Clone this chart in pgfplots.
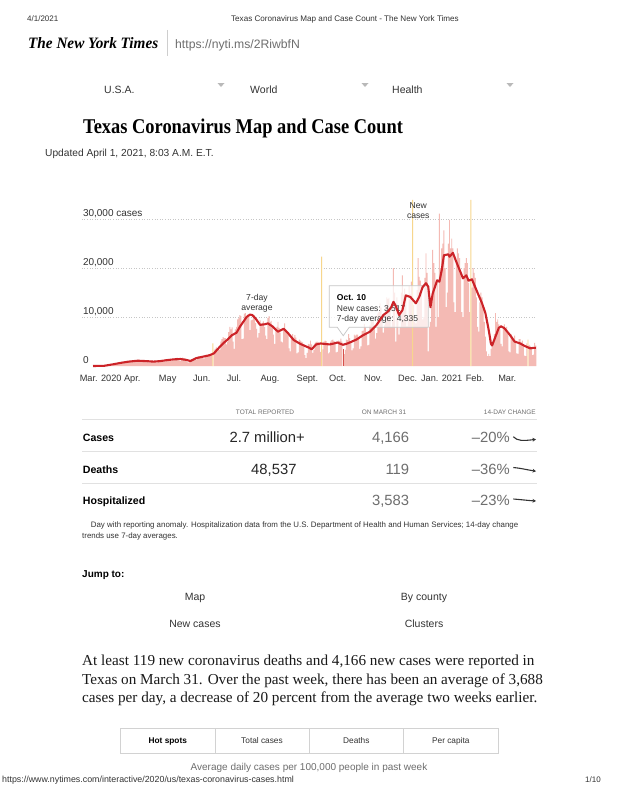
\documentclass[border=0pt]{standalone}
\usepackage{fontspec}
\setmainfont{Liberation Sans}
\newfontfamily\serifface{Liberation Serif}
\usepackage{graphicx}
\usepackage{pgfplots}
\pgfplotsset{compat=1.18}
\usetikzlibrary{arrows.meta}

\definecolor{ink}{RGB}{51,51,51}
\definecolor{soft}{RGB}{110,110,110}
\definecolor{rule}{RGB}{225,225,225}
\definecolor{barpink}{RGB}{244,186,180}
\definecolor{avgred}{RGB}{204,35,40}
\definecolor{anomaly}{RGB}{247,214,140}
\definecolor{picked}{RGB}{214,80,75}
\newcommand\fs[1]{\fontsize{#1}{#1}\selectfont}

\begin{document}
\begin{tikzpicture}[x=1pt,y=1pt]
\fill[white] (0,0) rectangle (618,-800);
\path[use as bounding box] (0,0) rectangle (618,-800);

% browser header
\node[anchor=base west,inner sep=0,text=ink,font=\fs{8}] at (27,-21.9) {4/1/2021};
\node[anchor=base,inner sep=0,text=ink,font=\fs{8.1}] at (345,-21.9) {Texas Coronavirus Map and Case Count - The New York Times};
\node[anchor=west,inner sep=0] at (28,-42.7) {\resizebox{130pt}{11pt}{\serifface\bfseries\itshape The New York Times}};
\draw[rule!80!gray,line width=0.8pt] (167,-30) -- (167,-56);
\node[anchor=base west,inner sep=0,text=soft,font=\fs{12.2}] at (175,-48.3) {https://nyti.ms/2RiwbfN};

% navigation
\node[anchor=base west,inner sep=0,text=ink,font=\fs{10.5}] at (104,-93.8) {U.S.A.};
\node[anchor=base west,inner sep=0,text=ink,font=\fs{10.5}] at (250,-93.8) {World};
\node[anchor=base west,inner sep=0,text=ink,font=\fs{10.5}] at (392,-93.8) {Health};
\foreach \t in {221,365,510} {\fill[gray!55] (\t-3.5,-83) -- (\t+3.5,-83) -- (\t,-87) -- cycle;}

% headline
\node[anchor=base west,inner sep=0] at (83,-133.5) {\scalebox{0.877}[1]{\serifface\bfseries\fs{21}Texas Coronavirus Map and Case Count}};
\node[anchor=base west,inner sep=0,text=ink,font=\fs{10.2}] at (45,-156.7) {Updated April 1, 2021, 8:03 A.M. E.T.};

% chart
\begin{axis}[
  at={(81.8pt,-366pt)}, anchor=south west,
  scale only axis, width=454.6pt, height=166.1pt,
  xmin=-10, xmax=395.5, ymin=0, ymax=33900,
  clip=false,
  scaled y ticks=false,
  axis line style={draw=none},
  major tick length=0pt,
  xtick={6.8,35,66.6,97,125.8,157.9,191.2,218.2,250,280.7,311,340.7,369.5},
  xticklabels={Mar. 2020,Apr.,May,Jun.,Jul.,Aug.,Sept.,Oct.,Nov.,Dec.,Jan. 2021,Feb.,Mar.},
  xticklabel style={anchor=base,inner sep=0pt,yshift=-15.5pt,font=\fs{9.2},text=ink},
  ytick={10000,20000,30000},
  yticklabels={{10,000},{20,000},{30,000 cases}},
  extra y ticks={0}, extra y tick labels={0},
  extra y tick style={grid=none},
  yticklabel style={anchor=base west,inner sep=0pt,xshift=1pt,yshift=2.5pt,font=\fs{10},text=ink},
  ymajorgrids,
  grid style={dash pattern=on 1pt off 1.6pt,color=gray!45,line width=0.6pt},
]
% daily new cases
\addplot[ybar,bar width=0.85,bar shift=0pt,fill=barpink,draw=none] coordinates {
(0,0)(1,0)(2,0)(3,0)(4,2)(5,0)(6,3)
(7,1)(8,3)(9,5)(10,10)(11,15)(12,25)(13,20)
(14,20)(15,40)(16,60)(17,90)(18,150)(19,200)(20,250)
(21,300)(22,350)(23,400)(24,500)(25,650)(26,700)(27,600)
(28,700)(29,650)(30,800)(31,900)(32,1000)(33,1100)(34,900)
(35,850)(36,900)(37,1100)(38,1200)(39,1100)(40,1250)(41,1000)
(42,800)(43,850)(44,1100)(45,1050)(46,1200)(47,1100)(48,900)
(49,700)(50,750)(51,950)(52,1000)(53,1050)(54,1000)(55,800)
(56,800)(57,700)(58,1100)(59,1200)(60,1100)(61,1250)(62,1000)
(63,900)(64,850)(65,1300)(66,1400)(67,1200)(68,1350)(69,1100)
(70,1000)(71,1100)(72,1500)(73,1600)(74,1450)(75,1700)(76,1200)
(77,1100)(78,1000)(79,1600)(80,1700)(81,1500)(82,1600)(83,1300)
(84,800)(85,700)(86,1200)(87,1300)(88,1400)(89,1300)(90,1200)
(91,1400)(92,1200)(93,1800)(94,2000)(95,1900)(96,1900)(97,1700)
(98,1600)(99,1500)(100,2200)(101,2300)(102,2100)(103,2400)(104,2000)
(105,2000)(106,2300)(108,3200)(109,3500)(110,3800)(111,3100)
(112,3500)(113,3300)(114,5000)(115,5500)(116,5900)(117,5700)(118,5700)
(119,4400)(120,5000)(121,6900)(122,8000)(123,7500)(124,7900)(125,5000)
(126,3500)(127,7500)(128,8000)(129,9500)(130,9800)(131,10400)(132,10200)
(133,5500)(134,5600)(135,10700)(136,10800)(137,10200)(138,10500)(139,10300)
(140,7300)(141,9300)(142,9400)(143,10500)(144,10400)(145,8800)(146,7600)
(147,5800)(148,6700)(149,9300)(150,8600)(151,8800)(152,9100)(153,8000)
(154,6200)(155,5500)(156,9800)(157,10200)(158,9000)(159,9200)(160,8000)
(161,6400)(162,4500)(163,7500)(164,8000)(165,9000)(166,7800)(167,6800)
(168,5000)(169,4800)(170,7600)(171,8700)(172,7400)(173,7000)(174,6900)
(175,3600)(176,3000)(177,6000)(178,6500)(179,5800)(180,6300)(181,5800)
(182,2600)(183,2800)(184,5400)(185,5200)(186,5000)(187,4800)(188,4300)
(189,2200)(190,1600)(191,2700)(192,4500)(193,4400)(194,5200)(195,4400)
(196,2700)(197,3300)(198,4700)(199,4900)(200,5000)(201,4800)(202,4300)
(203,2900)(205,3400)(206,5000)(207,5200)(208,5100)(209,4700)
(210,2600)(211,2800)(212,5000)(213,5300)(214,5400)(215,5100)(216,4600)
(217,2800)(218,2900)(219,5200)(220,5100)(221,5600)(222,5000)
(224,2400)(225,3300)(226,5400)(227,5300)(228,6500)(229,5700)(230,5000)
(231,3200)(232,3600)(233,6400)(234,6200)(235,6400)(236,6400)(237,5500)
(238,3500)(239,4000)(240,7100)(241,7200)(242,8600)(243,7900)(244,6400)
(245,4200)(246,4300)(247,8300)(248,9600)(249,9000)(250,9400)(251,7900)
(252,5600)(253,6700)(254,10700)(255,11000)(256,12800)(257,11900)(258,10000)
(259,6800)(260,8300)(261,12000)(262,14000)(263,13700)(264,13900)(265,11600)
(266,8000)(267,9300)(268,20000)(269,15000)(270,5000)(271,14000)(272,9500)
(273,6400)(274,8000)(275,15000)(276,18500)(277,14600)(278,15800)(279,14600)
(280,8100)(281,9700)(282,16300)(283,14600)(284,17200)(286,12400)
(287,9000)(288,8700)(289,15500)(290,22000)(291,18200)(292,17400)(293,16500)
(294,9500)(295,10000)(296,18000)(297,23000)(298,19000)(299,3000)(300,8000)
(301,9000)(302,12000)(303,23700)(304,21000)(305,19000)(306,8000)(307,17000)
(308,10000)(309,31100)(310,20000)(311,24000)(312,25000)(313,27700)(314,20000)
(315,12000)(316,15000)(317,25000)(318,29800)(319,24000)(320,26000)(321,24000)
(322,13000)(323,11000)(324,21000)(325,24000)(326,23000)(327,22000)(328,19000)
(329,11000)(330,10000)(331,20000)(332,21000)(333,22000)(334,21000)(335,17000)
(336,11000)(338,16000)(339,20000)(340,19000)(341,18000)(342,14000)
(343,8000)(344,7000)(345,13000)(346,15000)(347,14000)(348,12000)(349,9000)
(350,6000)(351,3000)(352,2000)(353,2500)(354,2000)(355,3500)(356,4500)
(357,5000)(358,6500)(359,10800)(360,9000)(361,9500)(362,8500)(363,7500)
(364,4500)(365,4000)(366,8000)(367,8500)(368,7500)(369,8000)(370,6500)
(371,3000)(372,2800)(373,6500)(374,6000)(375,5500)(376,6200)(377,4800)
(378,2600)(379,2500)(380,5500)(381,5500)(382,4800)(383,5200)(384,4300)
(385,2100)(386,2000)(387,4600)(389,4300)(390,4100)(391,3500)
(392,2200)(393,2300)(394,4700)(395,4166)
};
% days with reporting anomaly
\addplot[ybar,bar width=0.85,bar shift=0pt,fill=anomaly,draw=none] coordinates {
(107,4600)(204,22300)(285,33900)(337,33900)(388,5400)
};
% selected day
\addplot[ybar,bar width=0.85,bar shift=0pt,fill=picked,draw=none] coordinates {(223,3517)};

% tooltip
\filldraw[fill=white,fill opacity=0.72,draw=gray!45,line width=0.7pt]
  (210.8,16390) -- (299.1,16390) -- (299.1,7900) -- (228.5,7900) -- (223.2,6180)
  -- (217.9,7900) -- (210.8,7900) -- cycle;
\node[anchor=base west,inner sep=0,text=black,font=\bfseries\fs{8.5}] at (217.4,13388) {Oct. 10};
\node[anchor=base west,inner sep=0,text=ink,font=\fs{8.5}] at (217.4,11143) {New cases: 3,517};
\node[anchor=base west,inner sep=0,text=ink,font=\fs{8.5}] at (217.4,9102) {7-day average: 4,335};

% 7-day average
\addplot[draw=avgred,line width=2.1pt,line join=round,mark=none] coordinates {
(0,0)(10,40)(18,350)(25,650)(32,900)(40,1080)(47,1000)(54,900)(60,1000)
(66,1200)(72,1350)(78,1430)(83,1250)(87,1020)(92,1600)(98,1900)(104,2200)
(108,2600)(111,3400)(116,4600)(120,5400)(124,6300)(128,6800)(131,8000)
(134,9000)(137,10000)(140,10500)(142,10400)(145,9700)(149,8400)(153,8500)
(156,8700)(160,8100)(165,7000)(170,7600)(174,6700)(179,5300)(185,4500)
(189,4100)(193,3700)(195,3400)(199,4400)(203,4600)(207,4500)(211,4400)
(215,4600)(218,4800)(221,4500)(223,4335)(227,4600)(231,5000)(235,5400)
(241,6300)(247,7000)(253,8400)(259,10400)(263,11100)(266,12000)(268,13100)
(270,12300)(273,10400)(276,11400)(279,14400)(283,14100)(288,12800)
(291,14100)(294,16100)(297,16900)(299,16200)(301,12000)(303,14800)
(307,17500)(309,17200)(311,19500)(313,22600)(317,22800)(318,22300)
(321,23100)(324,21300)(327,19600)(330,17900)(333,18500)(335,17400)
(338,17700)(342,15500)(347,12800)(350,10800)(353,7300)(355,4500)
(356,4200)(359,6000)(362,7800)(364,8100)(367,7700)(372,6300)(376,5000)
(381,4600)(385,4100)(390,3600)(393,3700)(395,3690)
};
\end{axis}

% chart annotations
\node[align=center,inner sep=0,text=ink,font=\fontsize{8.6}{9.6}\selectfont] at (257,-303) {7-day\\average};
\node[align=center,inner sep=0,text=ink,font=\fontsize{8.6}{9.6}\selectfont] at (418.3,-210.7) {New\\cases};

% summary table
\node[anchor=base,inner sep=0,text=soft,font=\fs{6.5}] at (265,-414.3) {TOTAL REPORTED};
\node[anchor=base,inner sep=0,text=soft,font=\fs{6.5}] at (384,-414.3) {ON MARCH 31};
\node[anchor=base east,inner sep=0,text=soft,font=\fs{6.5}] at (536,-414.3) {14-DAY CHANGE};
\foreach \r in {419.3,451.7,483.3} {\draw[rule,line width=0.8pt] (82,-\r) -- (537,-\r);}

\node[anchor=base west,inner sep=0,text=black,font=\bfseries\fs{10.6}] at (82.7,-441.5) {Cases};
\node[anchor=base west,inner sep=0,text=black,font=\bfseries\fs{10.6}] at (82.7,-473.8) {Deaths};
\node[anchor=base west,inner sep=0,text=black,font=\bfseries\fs{10.6}] at (82.7,-504.8) {Hospitalized};

\node[anchor=base east,inner sep=0,text=black!85,font=\fs{14.8}] at (305,-442.5) {2.7 million+};
\node[anchor=base east,inner sep=0,text=black!85,font=\fs{14.8}] at (296.7,-474.8) {48,537};
\node[anchor=base east,inner sep=0,text=soft,font=\fs{14.8}] at (409.3,-442.5) {4,166};
\node[anchor=base east,inner sep=0,text=soft,font=\fs{14.8}] at (409.3,-474.8) {119};
\node[anchor=base east,inner sep=0,text=soft,font=\fs{14.8}] at (409.3,-505.8) {3,583};
\node[anchor=base east,inner sep=0,text=soft,font=\fs{14.8}] at (510,-442.5) {–20\%};
\node[anchor=base east,inner sep=0,text=soft,font=\fs{14.8}] at (510,-474.8) {–36\%};
\node[anchor=base east,inner sep=0,text=soft,font=\fs{14.8}] at (510,-505.8) {–23\%};
\draw[ink,line width=1.1pt,-{Stealth[length=3.5pt,width=3.8pt]}] (513.3,-436.7) .. controls (517,-441) and (523,-441) .. (536,-439.3);
\draw[ink,line width=1.1pt,-{Stealth[length=3.5pt,width=3.8pt]}] (513.3,-467.5) .. controls (520,-468) and (528,-470) .. (536,-471.2);
\draw[ink,line width=1.1pt,-{Stealth[length=3.5pt,width=3.8pt]}] (513.3,-499) .. controls (520,-499.5) and (528,-500.5) .. (536,-501);

\node[anchor=base west,inner sep=0,text=ink,font=\fs{7.9}] at (90.7,-527) {Day with reporting anomaly. Hospitalization data from the U.S. Department of Health and Human Services; 14-day change};
\node[anchor=base west,inner sep=0,text=ink,font=\fs{7.9}] at (82,-538) {trends use 7-day averages.};

% jump links
\node[anchor=base west,inner sep=0,text=black,font=\bfseries\fs{10}] at (82,-577.6) {Jump to:};
\node[anchor=base,inner sep=0,text=ink,font=\fs{10.5}] at (195,-600.4) {Map};
\node[anchor=base,inner sep=0,text=ink,font=\fs{10.5}] at (424,-600.4) {By county};
\node[anchor=base,inner sep=0,text=ink,font=\fs{10.5}] at (195,-627) {New cases};
\node[anchor=base,inner sep=0,text=ink,font=\fs{10.5}] at (424,-627) {Clusters};

% summary paragraph
\node[anchor=base west,inner sep=0,text=black!90,font=\serifface\fs{15.2}] at (82,-665) {At least 119 new coronavirus deaths and 4,166 new cases were reported in};
\node[anchor=base west,inner sep=0,text=black!90,font=\serifface\fs{15.2}] at (82,-684) {Texas on March 31. Over the past week, there has been an average of 3,688};
\node[anchor=base west,inner sep=0,text=black!90,font=\serifface\fs{15.2}] at (82,-702.3) {cases per day, a decrease of 20 percent from the average two weeks earlier.};

% tabs
\draw[rule!85!gray,line width=0.8pt] (120.7,-728.3) rectangle (498.3,-753.3);
\foreach \d in {215,309.3,403.3} {\draw[rule!85!gray,line width=0.8pt] (\d,-728.3) -- (\d,-753.3);}
\node[anchor=base,inner sep=0,text=black,font=\bfseries\fs{8.3}] at (167.8,-743.7) {Hot spots};
\node[anchor=base,inner sep=0,text=ink,font=\fs{8.3}] at (262,-743.7) {Total cases};
\node[anchor=base,inner sep=0,text=ink,font=\fs{8.3}] at (356.3,-743.7) {Deaths};
\node[anchor=base,inner sep=0,text=ink,font=\fs{8.3}] at (450.8,-743.7) {Per capita};
\node[anchor=base,inner sep=0,text=soft,font=\fs{10}] at (309,-770.5) {Average daily cases per 100,000 people in past week};

% browser footer
\node[anchor=base west,inner sep=0,text=ink,font=\fs{8.85}] at (2,-782.6) {https://www.nytimes.com/interactive/2020/us/texas-coronavirus-cases.html};
\node[anchor=base east,inner sep=0,text=ink,font=\fs{8}] at (601,-782.6) {1/10};
\end{tikzpicture}
\end{document}
